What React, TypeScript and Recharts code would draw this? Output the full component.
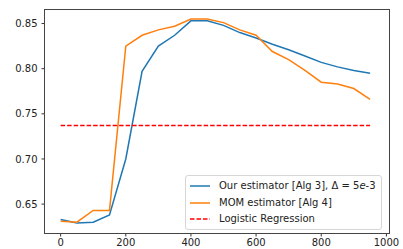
import { LineChart, Line, XAxis, YAxis } from 'recharts';

// sample sizes on the x axis
const sampleSizes = [0, 50, 100, 150, 200, 250, 300, 350, 400, 450, 500, 550, 600, 650, 700, 750, 800, 850, 900, 950];

const ourEstimator = [
  0.633, 0.629, 0.630, 0.638, 0.700, 0.797, 0.825, 0.837, 0.853, 0.853,
  0.848, 0.840, 0.834, 0.827, 0.821, 0.814, 0.807, 0.802, 0.798, 0.795,
];

const momEstimator = [
  0.631, 0.630, 0.643, 0.643, 0.825, 0.837, 0.843, 0.847, 0.855, 0.855,
  0.851, 0.843, 0.837, 0.819, 0.810, 0.798, 0.785, 0.783, 0.778, 0.766,
];

const logisticRegression = 0.737;

const xTicks = [0, 200, 400, 600, 800, 1000];
const yTicks = [0.65, 0.7, 0.75, 0.8, 0.85];

const data = sampleSizes.map((n, i) => ({
  n,
  ours: ourEstimator[i],
  mom: momEstimator[i],
  logreg: logisticRegression,
}));

const FONT = 'DejaVu Sans, sans-serif';

const legendItems = [
  { key: 'ours', color: '#1f77b4', dash: undefined as string | undefined },
  { key: 'mom', color: '#ff7f0e', dash: undefined as string | undefined },
  { key: 'logreg', color: '#ff0000', dash: '4.5 2' },
];

const ChartLegend = () => (
  <div
    style={{
      position: 'absolute',
      left: 185,
      top: 175,
      width: 197,
      boxSizing: 'border-box',
      border: '1px solid #d6d6d6',
      borderRadius: 3,
      background: 'rgba(255,255,255,0.85)',
      padding: '2px 4px 1px 4px',
      fontFamily: FONT,
      fontSize: 10,
      color: '#222',
      lineHeight: '16.5px',
    }}
  >
    {legendItems.map((item) => (
      <div key={item.key} style={{ display: 'flex', alignItems: 'center', whiteSpace: 'nowrap' }}>
        <svg width={20} height={6} style={{ marginRight: 9 }}>
          <line x1={0} y1={3} x2={20} y2={3} stroke={item.color} strokeWidth={1.5} strokeDasharray={item.dash} />
        </svg>
        {item.key === 'ours' && (
          <span>
            Our estimator [Alg 3], Δ = 5<i>e</i>-3
          </span>
        )}
        {item.key === 'mom' && <span>MOM estimator [Alg 4]</span>}
        {item.key === 'logreg' && <span>Logistic Regression</span>}
      </div>
    ))}
  </div>
);

const App = () => {
  return (
    <div style={{ position: 'absolute', left: 0, top: 0, width: 403, height: 249, background: '#fff' }}>
      <LineChart width={403} height={249} data={data} margin={{ top: 10, right: 14, bottom: 0, left: 0 }}>
        <XAxis
          dataKey="n"
          type="number"
          domain={[-48, 1008]}
          ticks={xTicks}
          allowDataOverflow
          height={16}
          tickSize={3.5}
          tickMargin={2}
          axisLine={false}
          tickLine={{ stroke: '#333' }}
          tick={{ fill: '#222', fontSize: 10, fontFamily: FONT }}
        />
        <YAxis
          type="number"
          domain={[0.618, 0.865]}
          ticks={yTicks}
          allowDataOverflow
          width={45}
          tickSize={3.5}
          tickMargin={4}
          axisLine={false}
          tickLine={{ stroke: '#333' }}
          tick={{ fill: '#222', fontSize: 10, fontFamily: FONT }}
          tickFormatter={(v: number) => v.toFixed(2)}
        />
        <Line dataKey="ours" stroke="#1f77b4" strokeWidth={1.5} dot={false} isAnimationActive={false} />
        <Line dataKey="mom" stroke="#ff7f0e" strokeWidth={1.5} dot={false} isAnimationActive={false} />
        <Line
          dataKey="logreg"
          stroke="#ff0000"
          strokeWidth={1.5}
          strokeDasharray="4.5 2"
          dot={false}
          isAnimationActive={false}
        />
      </LineChart>
      {/* axes frame, drawn above the lines like matplotlib spines */}
      <div
        style={{
          position: 'absolute',
          left: 44,
          top: 9,
          width: 346,
          height: 225,
          boxSizing: 'border-box',
          border: '1px solid #444',
          pointerEvents: 'none',
        }}
      />
      <ChartLegend />
    </div>
  );
};

export default App;
